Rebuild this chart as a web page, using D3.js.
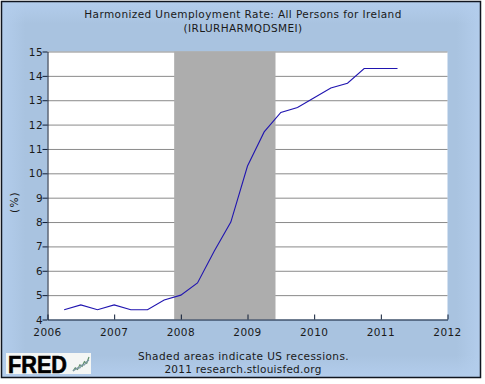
<!DOCTYPE html>
<html>
<head>
<meta charset="utf-8">
<script src="https://cdn.jsdelivr.net/npm/d3@7"></script>
<style>
html, body { margin: 0; padding: 0; background: #fff; }
svg { display: block; }
text { font-family: "DejaVu Sans", sans-serif; fill: #1a1a1a; font-size: 10.5px; letter-spacing: 0.4px; }
</style>
</head>
<body>
<svg width="485" height="384"></svg>
<script>
// Data
let dates = [2006.25, 2006.5, 2006.75, 2007, 2007.25, 2007.5, 2007.75, 2008, 2008.25, 2008.5, 2008.75,
    2009, 2009.25, 2009.5, 2009.75, 2010, 2010.25, 2010.5, 2010.75, 2011, 2011.25]
let rates = [4.4, 4.6, 4.4, 4.6, 4.4, 4.4, 4.8, 5.0, 5.5, 6.8, 8.0,
    10.3, 11.7, 12.5, 12.7, 13.1, 13.5, 13.7, 14.3, 14.3, 14.3]
let recessions = [[2007.9, 2009.42]]
let xTicks = [2006, 2007, 2008, 2009, 2010, 2011, 2012]
let yTicks = [4, 5, 6, 7, 8, 9, 10, 11, 12, 13, 14, 15]
let logoLineA = [0, 2, 1, 4, 3, 6, 5, 9]
let logoLineB = [0, 1, 2, 2, 4, 4, 6, 7]

let padding = { left: 47.5, right: 447.5, top: 51.5, bottom: 319.5 }

let scale = {
    x: d3.scaleLinear().domain([2006, 2012]).range([padding.left, padding.right]),
    y: d3.scaleLinear().domain([4, 15]).range([padding.bottom, padding.top])
}

let svg = d3.select('svg')

// Background gradients, lighter towards the edges
let defs = svg.append('defs')
let edgeX = defs.append('linearGradient').attr('id', 'edge-x')
edgeX.append('stop').attr('offset', '0').attr('stop-color', '#b3cdec')
edgeX.append('stop').attr('offset', '0.05').attr('stop-color', '#a9c3e0')
edgeX.append('stop').attr('offset', '0.95').attr('stop-color', '#a9c3e0')
edgeX.append('stop').attr('offset', '1').attr('stop-color', '#b3cdec')
let edgeY = defs.append('linearGradient').attr('id', 'edge-y')
    .attr('x1', 0).attr('x2', 0).attr('y1', 0).attr('y2', 1)
edgeY.append('stop').attr('offset', '0').attr('stop-color', '#b3cdec')
edgeY.append('stop').attr('offset', '0.06').attr('stop-color', '#b3cdec').attr('stop-opacity', 0)
edgeY.append('stop').attr('offset', '0.94').attr('stop-color', '#b3cdec').attr('stop-opacity', 0)
edgeY.append('stop').attr('offset', '1').attr('stop-color', '#b3cdec')

svg.append('rect')
    .attr('x', 1.5).attr('y', 1.5)
    .attr('width', 479).attr('height', 376)
    .attr('fill', 'url(#edge-x)')
svg.append('rect')
    .attr('x', 1.5).attr('y', 1.5)
    .attr('width', 479).attr('height', 376)
    .attr('fill', 'url(#edge-y)')
    .attr('stroke', '#10151f')
    .attr('stroke-width', 1.5)

// Plot area
svg.append('rect')
    .attr('x', padding.left).attr('y', padding.top)
    .attr('width', padding.right - padding.left)
    .attr('height', padding.bottom - padding.top)
    .attr('fill', '#fff')

// Gridlines - set them before the recession bars
svg.append('g')
    .attr('transform', `translate(${padding.left},0)`)
    .call(d3.axisLeft(scale.y).tickValues(yTicks.slice(1)).tickFormat('').tickSize(-(padding.right - padding.left)))
    .call(g => g.select('.domain').remove())
    .call(g => g.selectAll('line').attr('stroke', '#8a8a8a'))

// Recession bars
svg.selectAll('.recession')
    .data(recessions)
    .enter()
    .append('rect')
    .attr('class', 'recession')
    .attr('x', d => scale.x(d[0]))
    .attr('y', padding.top)
    .attr('width', d => scale.x(d[1]) - scale.x(d[0]))
    .attr('height', padding.bottom - padding.top)
    .attr('fill', '#adadad')

// Line
let line = d3.line().x((d, i) => scale.x(dates[i])).y(d => scale.y(d))
svg.append('path')
    .datum(rates)
    .attr('d', line)
    .attr('fill', 'none')
    .attr('stroke', '#2015b0')
    .attr('stroke-width', 1.1)

// X axis
svg.append('g')
    .attr('transform', `translate(0,${padding.bottom})`)
    .call(d3.axisTop(scale.x).tickValues(xTicks).tickFormat('').tickSize(5).tickSizeOuter(0))
    .call(g => g.selectAll('line,path').attr('stroke', '#0c1a33'))
svg.selectAll('.x-label')
    .data(xTicks)
    .enter()
    .append('text')
    .attr('class', 'x-label')
    .attr('x', d => scale.x(d))
    .attr('y', 336)
    .attr('text-anchor', 'middle')
    .text(d => d)

// Y axis
svg.append('g')
    .attr('transform', `translate(${padding.left},0)`)
    .call(d3.axisLeft(scale.y).tickValues(yTicks).tickFormat('').tickSize(5).tickSizeOuter(0))
    .call(g => g.selectAll('line,path').attr('stroke', '#0c1a33'))
svg.selectAll('.y-label')
    .data(yTicks)
    .enter()
    .append('text')
    .attr('class', 'y-label')
    .attr('x', 43)
    .attr('y', d => scale.y(d) + 4)
    .attr('text-anchor', 'end')
    .text(d => d)

// Y label
svg.append('text')
    .attr('transform', 'translate(18,202) rotate(270)')
    .attr('text-anchor', 'middle')
    .style('letter-spacing', '1.2px')
    .text('(%)')

// Title
svg.append('text')
    .attr('x', 243).attr('y', 18)
    .attr('text-anchor', 'middle')
    .text('Harmonized Unemployment Rate: All Persons for Ireland')
svg.append('text')
    .attr('x', 243).attr('y', 32)
    .attr('text-anchor', 'middle')
    .text('(IRLURHARMQDSMEI)')

// Footer
svg.append('text')
    .attr('x', 243.5).attr('y', 360)
    .attr('text-anchor', 'middle')
    .text('Shaded areas indicate US recessions.')
svg.append('text')
    .attr('x', 243).attr('y', 373)
    .attr('text-anchor', 'middle')
    .style('letter-spacing', '0.25px')
    .text('2011 research.stlouisfed.org')

// FRED logo
let logo = svg.append('g')
logo.append('rect')
    .attr('x', 6).attr('y', 353)
    .attr('width', 85).attr('height', 21)
    .attr('fill', '#f4f6f4')
logo.append('text')
    .attr('x', 8).attr('y', 373)
    .attr('textLength', 59)
    .attr('lengthAdjust', 'spacingAndGlyphs')
    .style('font-family', '"Liberation Sans", sans-serif')
    .style('font-weight', 'bold')
    .style('font-size', '23px')
    .style('letter-spacing', '0')
    .style('fill', '#000')
    .style('stroke', '#000')
    .style('stroke-width', 0.6)
    .text('FRED')

let logoX = d3.scaleLinear().domain([0, 7]).range([73, 89])
let logoY = d3.scaleLinear().domain([0, 9]).range([371, 357])
let logoLine = d3.line().x((d, i) => logoX(i)).y(d => logoY(d))
logo.append('path').datum(logoLineA).attr('d', logoLine)
    .attr('fill', 'none').attr('stroke', '#5f8f6a').attr('stroke-width', 1.2)
logo.append('path').datum(logoLineB).attr('d', logoLine)
    .attr('fill', 'none').attr('stroke', '#7f98a8').attr('stroke-width', 1.2)
</script>
</body>
</html>
